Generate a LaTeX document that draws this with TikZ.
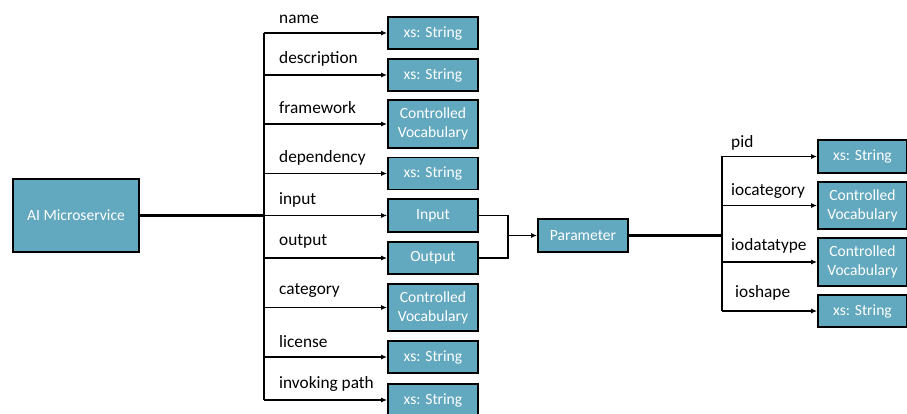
\documentclass[tikz,border=0pt]{standalone}
\usepackage{fontspec}
\setmainfont{Carlito}
\usetikzlibrary{arrows.meta}
\definecolor{boxfill}{HTML}{62A8BF}
\tikzset{
  databox/.style={draw=black, line width=1.8pt, fill=boxfill, text=white, align=center,
    inner sep=0pt, font=\fontsize{15.6}{19}\selectfont},
  lbl/.style={anchor=west, inner sep=0pt, font=\fontsize{17.3}{20}\selectfont},
  conn/.style={draw=black, line width=1.5pt},
  thick conn/.style={draw=black, line width=2.6pt},
  arr/.style={conn, -{Latex[length=6pt,width=5pt]}},
}
\begin{document}
\begin{tikzpicture}[x=1pt,y=-1pt]
\useasboundingbox (0,0) rectangle (907,414);
\begin{scope}
\clip (0,0) rectangle (907,414);
% main node
\node[databox, minimum width=126pt, minimum height=73pt] (ai) at (76,215.5) {AI Microservice};
% left column boxes
\node[databox, minimum width=90pt, minimum height=32pt] (b1) at (433,33) {xs: String};
\node[databox, minimum width=90pt, minimum height=32pt] (b2) at (433,75) {xs: String};
\node[databox, minimum width=90pt, minimum height=48pt] (b3) at (433,124) {Controlled\\Vocabulary};
\node[databox, minimum width=90pt, minimum height=32pt] (b4) at (433,173.5) {xs: String};
\node[databox, minimum width=90pt, minimum height=33pt] (b5) at (433,215.5) {Input};
\node[databox, minimum width=90pt, minimum height=32pt] (b6) at (433,258) {Output};
\node[databox, minimum width=90pt, minimum height=47pt] (b7) at (433,307.5) {Controlled\\Vocabulary};
\node[databox, minimum width=90pt, minimum height=32pt] (b8) at (433,357) {xs: String};
\node[databox, minimum width=90pt, minimum height=32pt] (b9) at (433,400) {xs: String};
% parameter
\node[databox, minimum width=90pt, minimum height=33pt] (par) at (583,235.5) {Parameter};
% right column boxes
\node[databox, minimum width=89pt, minimum height=33pt] (r1) at (862.5,156.5) {xs: String};
\node[databox, minimum width=89pt, minimum height=47pt] (r2) at (862.5,205.5) {Controlled\\Vocabulary};
\node[databox, minimum width=89pt, minimum height=48pt] (r3) at (862.5,262) {Controlled\\Vocabulary};
\node[databox, minimum width=89pt, minimum height=32pt] (r4) at (862.5,311) {xs: String};
% trunk coordinates
\coordinate (ltop) at (264,33);
\coordinate (lbot) at (264,400);
\coordinate (ljoin) at (264,215.5);
\coordinate (rtop) at (722,156.5);
\coordinate (rbot) at (722,311);
\coordinate (rjoin) at (722,235.5);
\coordinate (mjoin) at (508,235.5);
% left trunk
\draw[conn] (ltop) -- (lbot);
\draw[thick conn] (ai.east) -- (ljoin);
\foreach \b in {b1,b2,b3,b4,b5,b6,b7,b8,b9}{
  \draw[arr] (\b.west -| ltop) -- (\b.west);
}
% input/output to parameter
\draw[conn] (b5.east) -| (mjoin);
\draw[conn] (b6.east) -| (mjoin);
\draw[arr] (mjoin) -- (par.west);
% right trunk
\draw[thick conn] (par.east) -- (rjoin);
\draw[conn] (rtop) -- (rbot);
\foreach \b in {r1,r2,r3,r4}{
  \draw[arr] (\b.west -| rtop) -- (\b.west);
}
% labels
\node[lbl] (l1) at (279,19) {name};
\node[lbl] (l2) at (279,59) {description};
\node[lbl] (l3) at (279,108) {framework};
\node[lbl] (l4) at (279,158) {dependency};
\node[lbl] (l5) at (279,200) {input};
\node[lbl] (l6) at (279,241) {output};
\node[lbl] (l7) at (279,291) {category};
\node[lbl] (l8) at (279,342) {license};
\node[lbl] (l9) at (279,384) {invoking path};
\node[lbl] (m1) at (731,143) {pid};
\node[lbl] (m2) at (731,191) {iocategory};
\node[lbl] (m3) at (731,246) {iodatatype};
\node[lbl] (m4) at (735,293) {ioshape};
\end{scope}
\end{tikzpicture}
\end{document}
